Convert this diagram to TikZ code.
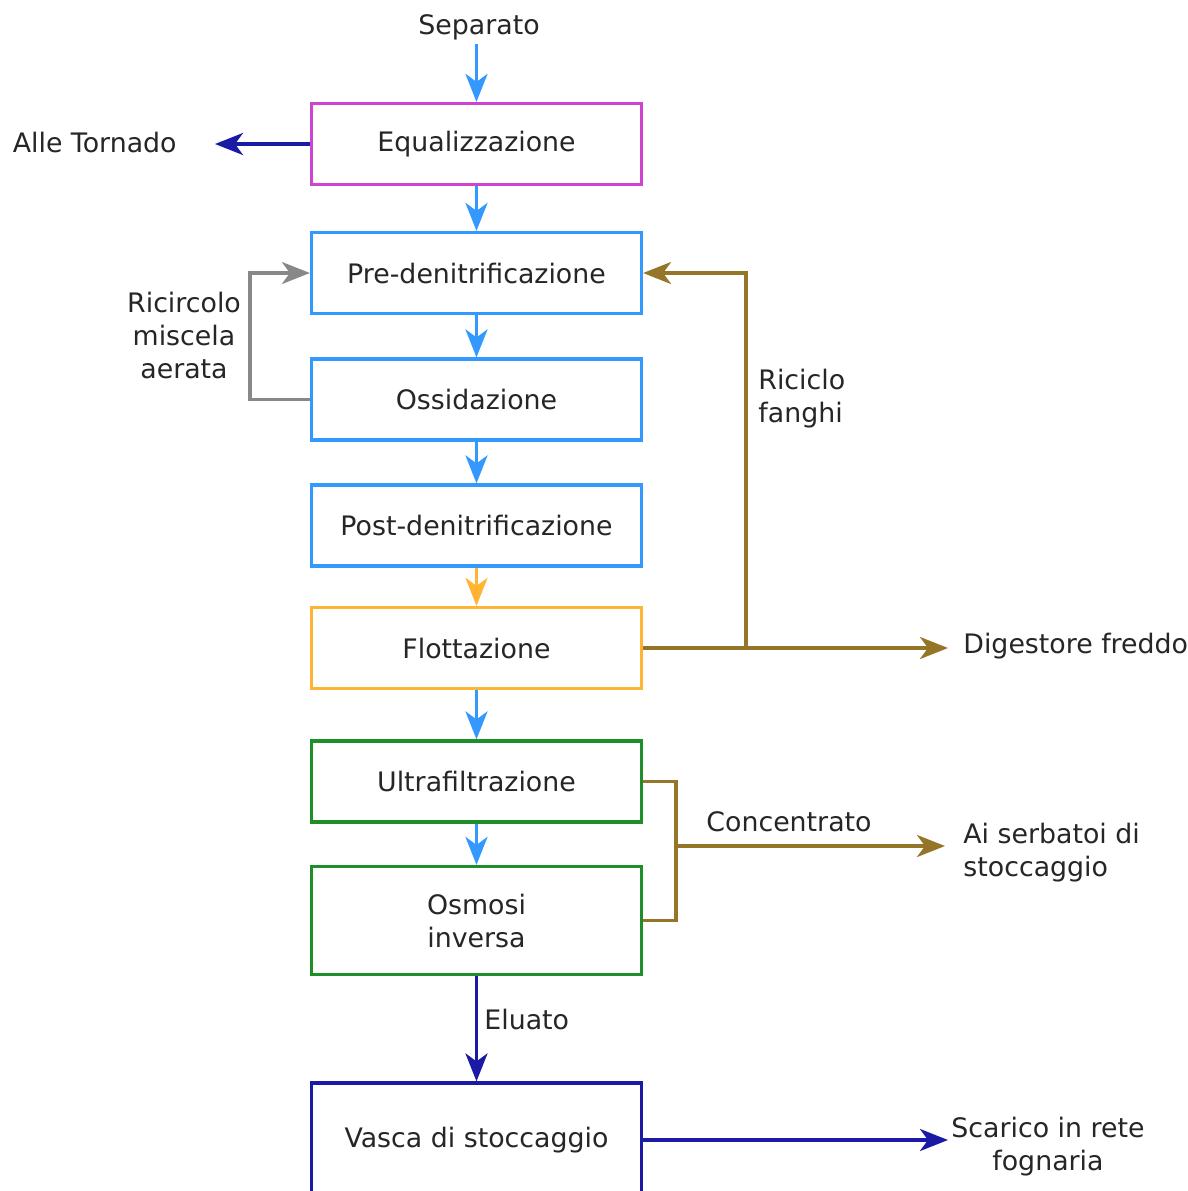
\documentclass[tikz,border=0pt]{standalone}
\usepackage{fontspec}
\setmainfont{DejaVu Sans}
\usetikzlibrary{arrows.meta,positioning}
\definecolor{equcol}{HTML}{CC44D0}
\definecolor{skyblu}{HTML}{3399FF}
\definecolor{orange}{HTML}{FFB433}
\definecolor{grncol}{HTML}{1E8F28}
\definecolor{navy}{HTML}{1A1AA6}
\definecolor{fango}{HTML}{957628}
\definecolor{ricol}{HTML}{888888}
\definecolor{txtcol}{HTML}{262626}
\tikzset{
  stage/.style={draw, line width=1.6pt, minimum width=165pt, minimum height=40.5pt, align=center, text=txtcol},
  lbl/.style={text=txtcol, inner sep=0pt},
  flow/.style={line width=1.6pt, -{Stealth[length=14pt,width=11pt,inset=4pt]}},
  pipe/.style={line width=1.6pt}
}
\begin{document}
\begin{tikzpicture}[x=0.5pt, y=-0.5pt, font=\fontsize{13.4}{16.5}\selectfont]
    \clip (0,0) rectangle (1188,1191);
    \fill[white] (0,0) rectangle (1188,1191);
    % stadi di trattamento
    \node[stage, draw=equcol] (equ)   at (476.5,144)  {Equalizzazione};
    \node[stage, draw=skyblu] (pre)   at (476.5,273)  {Pre-denitrificazione};
    \node[stage, draw=skyblu] (oss)   at (476.5,399.5){Ossidazione};
    \node[stage, draw=skyblu] (post)  at (476.5,525.5){Post-denitrificazione};
    \node[stage, draw=orange] (flot)  at (476.5,648)  {Flottazione};
    \node[stage, draw=grncol] (ultra) at (476.5,781.5){Ultrafiltrazione};
    \node[stage, draw=grncol, minimum height=54pt] (osm) at (476.5,920.5) {Osmosi\\inversa};
    \node[stage, draw=navy, minimum height=57pt] (vasca) at (476.5,1140) {Vasca di stoccaggio};
    % ingressi e uscite
    \node[lbl] (sep) at (479,27) {Separato};
    \node[lbl, anchor=east] (torn) at (177,142) {Alle Tornado};
    \node[lbl, anchor=west] (dig) at (963,646) {Digestore freddo};
    \node[lbl, anchor=west, align=left] (serb) at (963,853) {Ai serbatoi di\\stoccaggio};
    \node[lbl, anchor=west, align=center] (scar) at (951,1147) {Scarico in rete\\fognaria};
    \node[lbl, align=center] (ricirc) at (184,335) {Ricircolo\\miscela\\aerata};
    \node[lbl, anchor=west, align=left] (ricic) at (758,399) {Riciclo\\fanghi};
    \node[lbl] (conc) at (789,822) {Concentrato};
    \node[lbl, anchor=west] (elu) at (484,1019) {Eluato};
    \coordinate (sepin) at (476.5,44);
    \coordinate (tornin) at (215,144);
    \coordinate (digin) at (948,648);
    \coordinate (jf) at (746,648);
    \coordinate (jc) at (676,846);
    \coordinate (serbin) at (945,846);
    \coordinate (scarin) at (948,1140);
    \coordinate (jr) at (250,400);
    % linea principale
    \draw[flow, skyblu] (sepin) -- (equ.north);
    \draw[flow, skyblu] (equ) -- (pre);
    \draw[flow, skyblu] (pre) -- (oss);
    \draw[flow, skyblu] (oss) -- (post);
    \draw[flow, orange] (post) -- (flot);
    \draw[flow, skyblu] (flot) -- (ultra);
    \draw[flow, skyblu] (ultra) -- (osm);
    \draw[flow, navy] (osm) -- (vasca);
    % derivazioni
    \draw[flow, navy] (equ.west) -- (tornin);
    \draw[flow, ricol] (oss.west) -- (oss.west -| jr) |- (pre.west);
    \draw[flow, fango] (flot.east) -- (digin);
    \draw[flow, fango] (jf) |- (pre.east);
    \draw[pipe, fango] (ultra.east) -| (jc) |- (osm.east);
    \draw[flow, fango] (jc) -- (serbin);
    \draw[flow, navy] (vasca.east) -- (scarin);
\end{tikzpicture}
\end{document}
